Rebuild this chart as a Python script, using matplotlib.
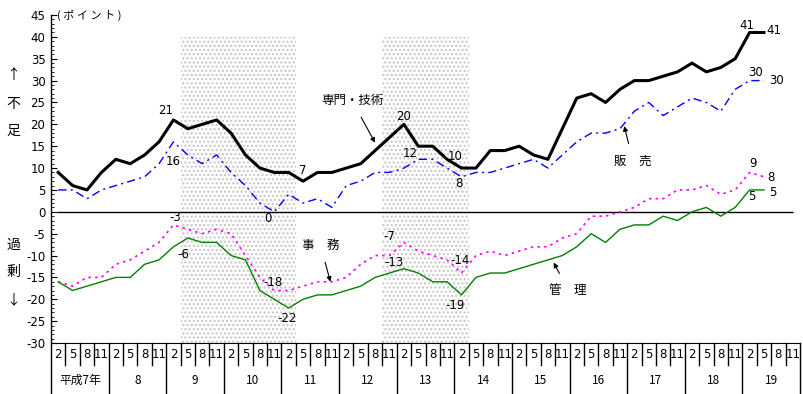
import matplotlib
matplotlib.use("Agg")
import matplotlib.pyplot as plt
import numpy as np

plt.rcParams['font.family'] = ['Noto Sans CJK JP', 'DejaVu Sans']

# quarterly survey months, 平成7年2月 ... 平成19年11月
YEARS = ["平成7年", "8", "9", "10", "11", "12", "13", "14", "15", "16", "17", "18", "19"]
MONTHS = ["2", "5", "8", "11"]

# DI (ポイント), from 平成7年2月 to 平成19年5月
senmon = [9, 6, 5, 9, 12, 11, 13, 16, 21, 19, 20, 21, 18, 13, 10, 9, 9, 7, 9, 9,
          10, 11, 14, 17, 20, 15, 15, 12, 10, 10, 14, 14, 15, 13, 12, 19, 26, 27, 25, 28,
          30, 30, 31, 32, 34, 32, 33, 35, 41, 41]
hanbai = [5, 5, 3, 5, 6, 7, 8, 11, 16, 13, 11, 13, 9, 6, 2, 0, 4, 2, 3, 1,
          6, 7, 9, 9, 10, 12, 12, 10, 8, 9, 9, 10, 11, 12, 10, 13, 16, 18, 18, 19,
          23, 25, 22, 24, 26, 25, 23, 28, 30, 30]
jimu = [-16, -17, -15, -15, -12, -11, -9, -7, -3, -4, -5, -4, -5, -10, -15, -18, -18, -17, -16, -16,
        -15, -12, -10, -10, -7, -9, -10, -11, -14, -10, -9, -10, -9, -8, -8, -6, -5, -1, -1, 0,
        1, 3, 3, 5, 5, 6, 4, 5, 9, 8]
kanri = [-16, -18, -17, -16, -15, -15, -12, -11, -8, -6, -7, -7, -10, -11, -18, -20, -22, -20, -19, -19,
         -18, -17, -15, -14, -13, -14, -16, -16, -19, -15, -14, -14, -13, -12, -11, -10, -8, -5, -7, -4,
         -3, -3, -1, -2, 0, 1, -1, 1, 5, 5]

# recession periods (column boundaries)
SHADE = [(8.5, 16.5), (22.5, 28.5)]

ncol = len(YEARS) * 4
x = np.arange(len(senmon))

fig = plt.figure(figsize=(8.04, 3.94), dpi=100)
ax = fig.add_axes([51 / 804, 51 / 394, 749 / 804, 328 / 394])
ax.set_xlim(-0.5, ncol - 0.5)
ax.set_ylim(-30, 45)

for a, b in SHADE:
    ax.fill_between([a, b], -30, 40, facecolor="white", edgecolor="#c4c4c4",
                    hatch="....", lw=0, zorder=0)

ax.hlines(0, -0.1, ncol - 1, color="black", lw=1, zorder=1)

ax.plot(x, senmon, color="black", lw=2.2, zorder=4)
ax.plot(x, hanbai, color="#0000ff", lw=1, ls=(0, (6, 3, 1.5, 3)), zorder=3)
ax.plot(x, jimu, color="#ff00ff", lw=1.2, ls=(0, (1.5, 2.5)), zorder=3)
ax.plot(x, kanri, color="#008000", lw=1, zorder=3)

# value labels (index, series, dx, dy in pixels)
labs = [(8, senmon, -8, 9), (8, hanbai, 0, -20), (17, senmon, 0, 11), (24, senmon, 0, 8),
        (25, hanbai, -8, 6), (28, senmon, -6, 12), (28, hanbai, -3, -7),
        (48, senmon, -3, 7), (49, senmon, 10, 2), (48, hanbai, 6, 8), (49, hanbai, 13, 0),
        (48, jimu, 3, 9), (49, jimu, 7, -1), (48, kanri, 2, -7), (49, kanri, 9, -3),
        (8, jimu, 2, 7), (9, kanri, -5, -16), (15, hanbai, -6, -7), (15, jimu, -1, 8),
        (16, kanri, -2, -10), (24, jimu, -15, 6), (24, kanri, -10, 6), (28, jimu, -1, 13),
        (28, kanri, -6, -11)]
for i, s, dx, dy in labs:
    ax.annotate(str(s[i]), (i, s[i]), xytext=(dx, dy), textcoords="offset pixels",
                ha="center", va="center", fontsize=8.5, family="DejaVu Sans")

arrow = dict(arrowstyle="-|>", color="black", lw=0.8, mutation_scale=7, shrinkA=6, shrinkB=0)
ax.annotate("専門・技術", xy=(22.0, 15.8), xytext=(20.4, 25.4), ha="center", va="center",
            fontsize=9, arrowprops=arrow)
ax.annotate("販　売", xy=(39.3, 19.6), xytext=(39.9, 11.6), ha="center", va="center",
            fontsize=9, arrowprops=arrow)
ax.annotate("事　務", xy=(18.9, -16), xytext=(18.2, -7.6), ha="center", va="center",
            fontsize=9, arrowprops=arrow)
ax.annotate("管　理", xy=(34.4, -11.6), xytext=(35.4, -17.9), ha="center", va="center",
            fontsize=9, arrowprops=arrow)

# axes styling
for sp in ["top", "right", "left"]:
    ax.spines[sp].set_visible(False)
ax.set_xticks([])
ax.set_yticks(np.arange(-30, 46, 5))
ax.set_yticklabels([str(v) for v in range(-30, 46, 5)], family="DejaVu Sans")
ax.set_yticks(np.arange(-30, 46, 1), minor=True)
ax.tick_params(axis="y", which="major", direction="in", length=4, labelsize=8.5, pad=4)
ax.tick_params(axis="y", which="minor", direction="in", length=2)

# x axis table (months / years)
y_m, y_y = -35, -41.6
for k in range(ncol + 1):
    b = k - 0.5
    bottom = y_y if k % 4 == 0 else y_m
    ax.plot([b, b], [45 if k == 0 else -30, bottom], color="black", lw=1, clip_on=False)
for k in range(ncol):
    ax.text(k, -32.6, MONTHS[k % 4], ha="center", va="center", fontsize=8.5,
            family="DejaVu Sans", clip_on=False)
for j, yr in enumerate(YEARS):
    ax.text(4 * j + 1.5, -38.6, yr, ha="center", va="center", fontsize=8.5, clip_on=False)

# side labels
for t, yp in [("↑", 75), ("不", 104), ("足", 131), ("過", 245), ("剰", 272), ("↓", 300)]:
    fig.text(13 / 804, 1 - yp / 394, t, ha="center", va="center", fontsize=10)
fig.text(57 / 804, 1 - 15 / 394, "( ポ イ ン ト )", ha="left", va="center", fontsize=8)

fig.savefig("out.png", dpi=100)
